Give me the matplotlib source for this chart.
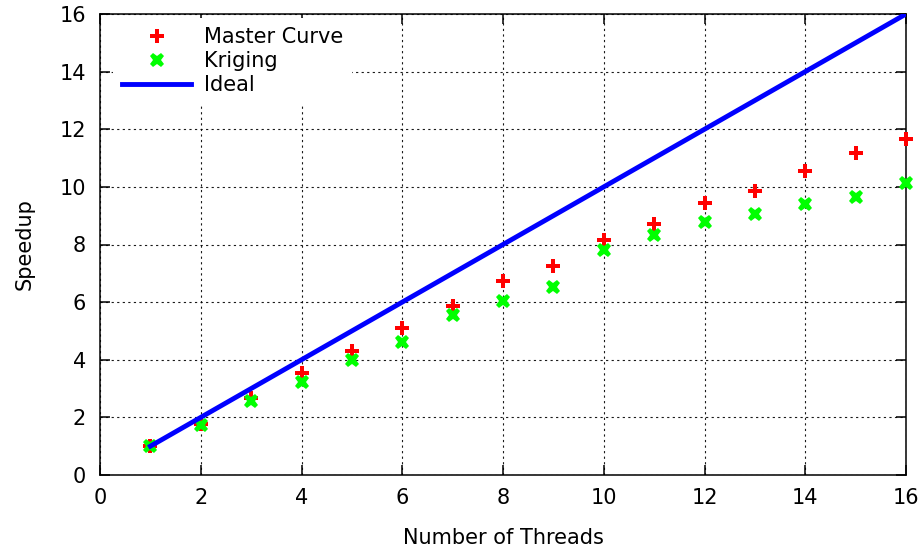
import matplotlib
matplotlib.use("Agg")
import matplotlib.pyplot as plt

# speedup measurements per thread count
threads = [1, 2, 3, 4, 5, 6, 7, 8, 9, 10, 11, 12, 13, 14, 15, 16]
master_curve = [1.0, 1.78, 2.67, 3.54, 4.31, 5.10, 5.87, 6.74, 7.27, 8.14,
                8.72, 9.44, 9.86, 10.56, 11.16, 11.67]
kriging = [1.0, 1.74, 2.57, 3.23, 3.99, 4.63, 5.56, 6.04, 6.52, 7.81,
           8.33, 8.77, 9.05, 9.41, 9.66, 10.15]
ideal = threads

plt.rcParams['font.family'] = ['DejaVu Sans']
plt.rcParams['font.size'] = 15

fig = plt.figure(figsize=(9.23, 5.47), dpi=100)
ax = fig.add_axes([100/923, 72/547, 806/923, 461/547])

ax.plot(threads, master_curve, linestyle='none', marker='P', markersize=10.5,
        color='#ff0000', markeredgewidth=0, label='Master Curve', clip_on=False, zorder=3)
ax.plot(threads, kriging, linestyle='none', marker='X', markersize=10.5,
        color='#00ff00', markeredgewidth=0, label='Kriging', clip_on=False, zorder=4)
ax.plot(threads, ideal, color='#0000ff', linewidth=3.5, label='Ideal', zorder=5)

ax.set_xlim(0, 16)
ax.set_ylim(0, 16)
ax.set_xticks(range(0, 17, 2))
ax.set_yticks(range(0, 17, 2))
ax.grid(True, color='black', linestyle=(0, (2, 3)), linewidth=0.8, alpha=0.9)
ax.set_axisbelow(True)

for s in ax.spines.values():
    s.set_linewidth(1.1)
ax.tick_params(direction='in', length=7, width=1.1, top=True, right=True,
               labelsize=15)
ax.tick_params(axis='x', pad=9)
ax.tick_params(axis='y', pad=10)

ax.set_xlabel('Number of Threads', labelpad=15)
ax.set_ylabel('Speedup', labelpad=18)

leg = ax.legend(loc='upper left', bbox_to_anchor=(0.016, 0.992), borderaxespad=0,
                frameon=True, fancybox=False, edgecolor='none', facecolor='white',
                framealpha=1, handlelength=3.3, handletextpad=0.6,
                labelspacing=0.2, borderpad=0.45, fontsize=15)

fig.savefig('out.png', dpi=100)
